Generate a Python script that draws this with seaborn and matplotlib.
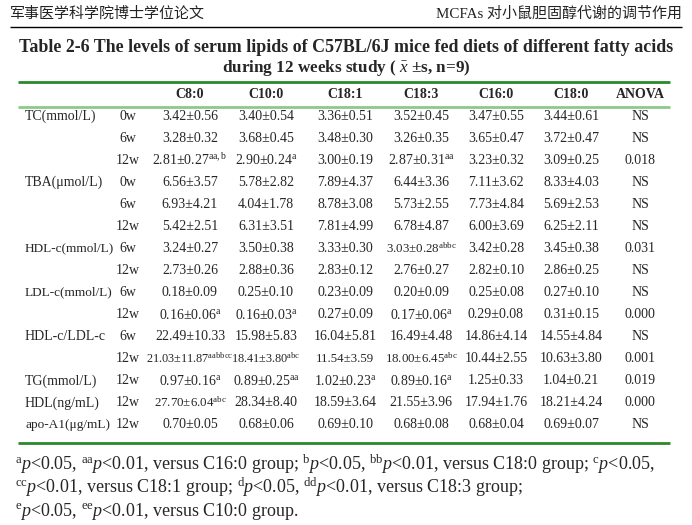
import matplotlib
matplotlib.use('Agg')
import matplotlib.pyplot as plt
import seaborn as sns

# Table content
groups = ['C8:0', 'C10:0', 'C18:1', 'C18:3', 'C16:0', 'C18:0']
measures = ['TC(mmol/L)', '', '', 'TBA(μmol/L)', '', '', 'HDL-c(mmol/L)', '',
            'LDL-c(mmol/L)', '', 'HDL-c/LDL-c', '', 'TG(mmol/L)', 'HDL(ng/mL)',
            'apo-A1(μg/mL)']
times = ['0w', '6w', '12w', '0w', '6w', '12w', '6w', '12w', '6w', '12w',
         '6w', '12w', '12w', '12w', '12w']

c8_mean = [3.42, 3.28, 2.81, 6.56, 6.93, 5.42, 3.24, 2.73, 0.18, 0.16, 22.49, 21.03, 0.97, 27.70, 0.70]
c8_sd = [0.56, 0.32, 0.27, 3.57, 4.21, 2.51, 0.27, 0.26, 0.09, 0.06, 10.33, 11.87, 0.16, 6.04, 0.05]
c10_mean = [3.40, 3.68, 2.90, 5.78, 4.04, 6.31, 3.50, 2.88, 0.25, 0.16, 15.98, 18.41, 0.89, 28.34, 0.68]
c10_sd = [0.54, 0.45, 0.24, 2.82, 1.78, 3.51, 0.38, 0.36, 0.10, 0.03, 5.83, 3.80, 0.25, 8.40, 0.06]
c181_mean = [3.36, 3.48, 3.00, 7.89, 8.78, 7.81, 3.33, 2.83, 0.23, 0.27, 16.04, 11.54, 1.02, 18.59, 0.69]
c181_sd = [0.51, 0.30, 0.19, 4.37, 3.08, 4.99, 0.30, 0.12, 0.09, 0.09, 5.81, 3.59, 0.23, 3.64, 0.10]
c183_mean = [3.52, 3.26, 2.87, 6.44, 5.73, 6.78, 3.03, 2.76, 0.20, 0.17, 16.49, 18.00, 0.89, 21.55, 0.68]
c183_sd = [0.45, 0.35, 0.31, 3.36, 2.55, 4.87, 0.28, 0.27, 0.09, 0.06, 4.48, 6.45, 0.16, 3.96, 0.08]
c160_mean = [3.47, 3.65, 3.23, 7.11, 7.73, 6.00, 3.42, 2.82, 0.25, 0.29, 14.86, 10.44, 1.25, 17.94, 0.68]
c160_sd = [0.55, 0.47, 0.32, 3.62, 4.84, 3.69, 0.28, 0.10, 0.08, 0.08, 4.14, 2.55, 0.33, 1.76, 0.04]
c180_mean = [3.44, 3.72, 3.09, 8.33, 5.69, 6.25, 3.45, 2.86, 0.27, 0.31, 14.55, 10.63, 1.04, 18.21, 0.69]
c180_sd = [0.61, 0.47, 0.25, 4.03, 2.53, 2.11, 0.38, 0.25, 0.10, 0.15, 4.84, 3.80, 0.21, 4.24, 0.07]
anova = ['NS', 'NS', '0.018', 'NS', 'NS', 'NS', '0.031', 'NS', 'NS', '0.000',
         'NS', '0.001', '0.019', '0.000', 'NS']

# significance marks: (row, group index) -> superscript
marks = {(2, 0): 'aa,b', (9, 0): 'a', (11, 0): 'aabbcc', (12, 0): 'a', (13, 0): 'abc',
         (2, 1): 'a', (9, 1): 'a', (11, 1): 'abc', (12, 1): 'aa',
         (12, 2): 'a',
         (2, 3): 'aa', (6, 3): 'abbc', (9, 3): 'a', (11, 3): 'abc', (12, 3): 'a'}
# cells printed in a narrower face in the original
narrow = {(11, 2): 9.3, (11, 3): 9.3, (6, 3): 9.3, (13, 0): 9.3,
          (11, 0): 8.8, (11, 1): 8.8}
narrow_labels = {'HDL-c(mmol/L)', 'LDL-c(mmol/L)', 'apo-A1(μg/mL)'}

means = [c8_mean, c10_mean, c181_mean, c183_mean, c160_mean, c180_mean]
sds = [c8_sd, c10_sd, c181_sd, c183_sd, c160_sd, c180_sd]

sns.set_theme(style='white')
plt.rcParams['font.family'] = ['Liberation Serif', 'Noto Sans CJK SC', 'DejaVu Sans']
plt.rcParams['mathtext.fontset'] = 'custom'
plt.rcParams['mathtext.rm'] = 'Liberation Serif'
plt.rcParams['mathtext.it'] = 'Liberation Serif:italic'
plt.rcParams['mathtext.bf'] = 'Liberation Serif:bold'

fig = plt.figure(figsize=(6.92, 5.25), dpi=100)
ax = fig.add_axes([0, 0, 1, 1])
ax.set_xlim(0, 692)
ax.set_ylim(525, 0)
ax.set_axis_off()

# page header
ax.text(10, 14, '军事医学科学院博士学位论文', fontsize=10.8, va='center', ha='left',
        family=['Noto Sans CJK SC'], color='#222222')
ax.text(682, 14, 'MCFAs 对小鼠胆固醇代谢的调节作用', fontsize=10.8, va='center', ha='right',
        family=['Liberation Serif', 'Noto Sans CJK SC'], color='#222222')
ax.hlines(27, 10, 682, color='black', lw=1)

# caption
ax.text(346, 47, 'Table 2-6 The levels of serum lipids of C57BL/6J mice fed diets of different fatty acids',
        fontsize=12.9, fontweight='bold', ha='center', va='center')
ax.text(346, 68, r'during 12 weeks study ( $\bar{x}$ ±s, n=9)',
        fontsize=12.3, fontweight='bold', ha='center', va='center')

col_x = [190, 266, 345, 421, 496, 571]
anova_x = 640
label_x = 25
time_x = 128
row0 = 116
row_step = 22.07
fs = 10

ax.hlines(82, 18, 670, color='#2a8a2a', lw=2)
ax.hlines(107, 18, 670, color='#8cc98c', lw=2)
ax.hlines(443, 18, 670, color='#2a8a2a', lw=2)

for g, x in zip(groups, col_x):
    ax.text(x, 94, g, fontsize=fs, fontweight='bold', ha='center', va='center')
ax.text(anova_x, 94, 'ANOVA', fontsize=fs, fontweight='bold', ha='center', va='center')

for i in range(len(times)):
    y = row0 + i * row_step
    if measures[i]:
        size = 9.5 if measures[i] in narrow_labels else fs
        ax.text(label_x, y, measures[i], fontsize=size, ha='left', va='center')
    ax.text(time_x, y, times[i], fontsize=fs, ha='center', va='center')
    for j, x in enumerate(col_x):
        s = f'{means[j][i]:.2f}±{sds[j][i]:.2f}'
        if (i, j) in marks:
            s += r'$^{\mathrm{' + marks[(i, j)] + '}}$'
        size = narrow.get((i, j), fs)
        ax.text(x, y, s, fontsize=size, ha='center', va='center')
    ax.text(anova_x, y, anova[i], fontsize=fs, ha='center', va='center')

# footnotes
foot = [r'$^{\mathrm{a}}p$<0.05, $^{\mathrm{aa}}p$<0.01, versus C16:0 group; $^{\mathrm{b}}p$<0.05, '
        r'$^{\mathrm{bb}}p$<0.01, versus C18:0 group; $^{\mathrm{c}}p$<0.05,',
        r'$^{\mathrm{cc}}p$<0.01, versus C18:1 group; $^{\mathrm{d}}p$<0.05, '
        r'$^{\mathrm{dd}}p$<0.01, versus C18:3 group;',
        r'$^{\mathrm{e}}p$<0.05, $^{\mathrm{ee}}p$<0.01, versus C10:0 group.']
for k, line in enumerate(foot):
    ax.text(15, 464 + k * 23.5, line, fontsize=13, ha='left', va='center')

fig.savefig('out.png', dpi=100)
